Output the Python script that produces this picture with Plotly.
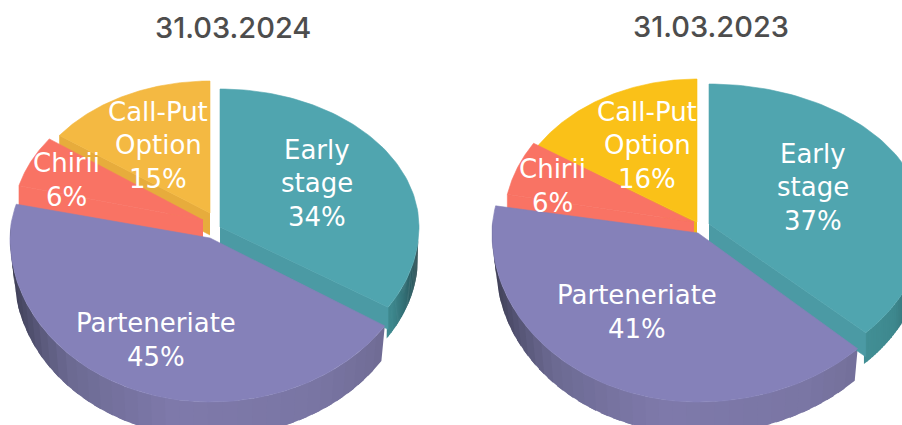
import numpy as np
import plotly.graph_objects as go

# ---- data ----
categories = ["Early stage", "Parteneriate", "Chirii", "Call-Put Option"]
label_lines = [["Early", "stage"], ["Parteneriate"], ["Chirii"], ["Call-Put", "Option"]]
values_2024 = [34, 45, 6, 15]
values_2023 = [37, 41, 6, 16]
titles = ["31.03.2024", "31.03.2023"]

# ---- styling ----
TEAL, PURPLE, CORAL = "#50a5af", "#8581b9", "#f97364"
TEAL_WALL, ORANGE_WALL = "#4b9aa4", {"a": "#e7ac3c", "b": "#eeb518"}
LABEL_FONT = "DejaVu Sans"
TITLE_FONT = "Inter"
LINE_STEP = 33.5

charts = [
    dict(values=values_2024, title=titles[0], title_pos=(233, 27), orange="#f4b942", owall=ORANGE_WALL["a"],
         teal=dict(a=(220, 227), rx=199, back=138, front=150, wall=22),
         purple=dict(a=(210, 238), rx=200, rx_r=207, back=136, front=164, depth=35),
         coral=dict(a=(203, 220), rx=190, back=138, front=138, wall=24),
         gold=dict(a=(210, 213), rx=186, back=132, front=132, wall=22),
         label_pos=[(317, 183), (156, 340), (66, 180), (158, 145)]),
    dict(values=values_2023, title=titles[1], title_pos=(711, 26), orange="#fac118", owall=ORANGE_WALL["b"],
         teal=dict(a=(709, 224), rx=215, back=140, front=159, wall=24),
         purple=dict(a=(698, 233), rx=206, rx_r=219, back=145, front=169, depth=32),
         coral=dict(a=(694, 222), rx=190, back=147, front=147, wall=16),
         gold=dict(a=(697, 222), rx=188, back=143, front=143, wall=12),
         label_pos=[(813, 187), (637, 312), (552, 186), (647, 145)]),
]


def rim(g, deg, shift=(0, 0), shrink=0):
    t = np.radians(np.asarray(deg, dtype=float))
    c = np.cos(t)
    s = np.sin(t)
    ry = np.where(c > 0, g["back"], g["front"])
    rx = np.where(s > 0, g.get("rx_r", g["rx"]), g["rx"]) - shrink
    return g["a"][0] + rx * s + shift[0], g["a"][1] - ry * c + shift[1]


def sector(g, a0, a1):
    d = np.linspace(a0, a1, 90)
    x, y = rim(g, d)
    return [g["a"][0], *x, g["a"][0]], [g["a"][1], *y, g["a"][1]]


def poly(fig, x, y, color, width=0.6):
    fig.add_trace(go.Scatter(x=list(x), y=list(y), mode="lines", fill="toself", fillcolor=color,
                             line=dict(color=color, width=width), hoverinfo="skip", showlegend=False))


def shade(deg, stops):
    ds = [s[0] for s in stops]
    rgb = np.array([[int(s[1][i:i + 2], 16) for i in (1, 3, 5)] for s in stops], dtype=float)
    ch = [np.interp(deg, ds, rgb[:, k]) for k in range(3)]
    return "rgb(%d,%d,%d)" % tuple(ch)


def wall_strips(fig, g, a0, a1, shift, stops, shrink=0, n=36):
    edges = np.linspace(a0, a1, n + 1)
    step = edges[1] - edges[0]
    for d0, d1 in zip(edges[:-1], edges[1:]):
        ds = np.linspace(d0, d1 + 0.6 * step, 4)
        x0, y0 = rim(g, ds)
        x1, y1 = rim(g, ds[::-1], shift, shrink)
        poly(fig, [*x0, *x1], [*y0, *y1], shade((d0 + d1) / 2, stops), width=0)


def radial_wall(fig, g, deg, drop, color):
    x, y = rim(g, deg)
    ax, ay = g["a"]
    poly(fig, [ax, float(x), float(x), ax], [ay, float(y), float(y) + drop, ay + drop], color)


fig = go.Figure()
annotations = []

PURPLE_SIDE = [(100, "#6a668c"), (125, "#716d96"), (150, "#7a76a4"), (190, "#7f7aab"),
               (225, "#6c6a92"), (250, "#4a4a66"), (285, "#2c2c38")]
TEAL_SIDE = [(95, "#1f3e42"), (105, "#2a5a60"), (120, "#3e888e"), (140, "#449399")]

for ch in charts:
    v = np.array(ch["values"], dtype=float)
    cuts = np.concatenate([[0], np.cumsum(v) / v.sum() * 360])
    teal_a = (cuts[0], cuts[1])
    purple_a = (cuts[1], cuts[2])
    coral_a = (cuts[2], cuts[3])
    gold_a = (cuts[3], cuts[4])

    wall_strips(fig, ch["teal"], 95, teal_a[1], (2, 30), TEAL_SIDE, shrink=3)
    wall_strips(fig, ch["purple"], purple_a[0], min(purple_a[1], 272), (0, ch["purple"]["depth"]), PURPLE_SIDE,
                shrink=4)

    radial_wall(fig, ch["gold"], gold_a[0], ch["gold"]["wall"], ch["owall"])
    poly(fig, *sector(ch["gold"], *gold_a), ch["orange"])
    radial_wall(fig, ch["coral"], coral_a[0], ch["coral"]["wall"], CORAL)
    poly(fig, *sector(ch["coral"], *coral_a), CORAL)
    radial_wall(fig, ch["teal"], teal_a[1], ch["teal"]["wall"], TEAL_WALL)
    poly(fig, *sector(ch["teal"], *teal_a), TEAL)
    poly(fig, *sector(ch["purple"], *purple_a), PURPLE)

    for name, val, pos in zip(label_lines, ch["values"], ch["label_pos"]):
        lines = [*name, f"{val}%"]
        for i, line in enumerate(lines):
            annotations.append(dict(x=pos[0], y=pos[1] + (i - (len(lines) - 1) / 2) * LINE_STEP,
                                    xref="x", yref="y", text=line,
                                    showarrow=False, xanchor="center", yanchor="middle",
                                    font=dict(family=LABEL_FONT, size=26, color="#ffffff")))
    annotations.append(dict(x=ch["title_pos"][0], y=ch["title_pos"][1], xref="x", yref="y", text=ch["title"],
                            showarrow=False, xanchor="center", yanchor="middle",
                            font=dict(family=TITLE_FONT, size=29, color="#4d4d4d", weight=500)))

fig.update_layout(
    width=902, height=425,
    margin=dict(l=0, r=0, t=0, b=0),
    paper_bgcolor="#ffffff", plot_bgcolor="#ffffff",
    showlegend=False, annotations=annotations,
    xaxis=dict(range=[0, 902], visible=False, fixedrange=True),
    yaxis=dict(range=[425, 0], visible=False, fixedrange=True),
)
fig.write_html("out.html", config={"displayModeBar": False},
               post_script="document.body.style.margin='0';document.documentElement.style.overflow='hidden';")
